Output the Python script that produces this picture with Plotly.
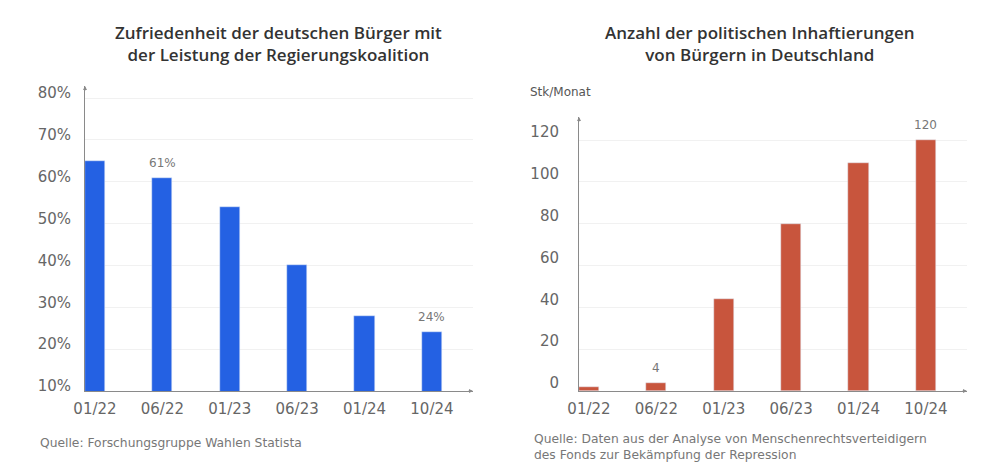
import plotly.graph_objects as go

# ---- data ----
categories = ["01/22", "06/22", "01/23", "06/23", "01/24", "10/24"]
satisfaction = [65, 61, 54, 40, 28, 24]          # percent
detentions = [2, 4, 44, 80, 109, 120]            # Stk/Monat
sat_ticks = [10, 20, 30, 40, 50, 60, 70, 80]
det_ticks = [0, 20, 40, 60, 80, 100, 120]
sat_labeled = {"06/22": "61%", "10/24": "24%"}
det_labeled = {"06/22": "4", "10/24": "120"}

title_left = "Zufriedenheit der deutschen Bürger mit<br>der Leistung der Regierungskoalition"
title_right = "Anzahl der politischen Inhaftierungen<br>von Bürgern in Deutschland"
source_left = "Quelle: Forschungsgruppe Wahlen Statista"
source_right = "Quelle: Daten aus der Analyse von Menschenrechtsverteidigern<br>des Fonds zur Bekämpfung der Repression"
unit_right = "Stk/Monat"

BLUE = "#2461E3"
RED = "#C8553D"
FONT = "DejaVu Sans"
TFONT = "Open Sans"
AXIS = "#8a8a8a"
TICK = "#666666"
GRID = "#f1f1f1"

W, H = 990, 473

def px_x(p):
    return p / W

def px_y(p):
    return 1 - p / H

fig = go.Figure()
fig.add_trace(go.Bar(x=categories, y=satisfaction, marker_color=BLUE, width=0.3,
                     xaxis="x", yaxis="y", hoverinfo="skip"))
fig.add_trace(go.Bar(x=categories, y=detentions, marker_color=RED, width=0.3,
                     xaxis="x2", yaxis="y2", hoverinfo="skip"))

xcommon = dict(type="category", range=[-0.148, 5.61], showline=True, linecolor=AXIS,
               linewidth=1, showgrid=False, zeroline=False, ticks="", automargin=False,
               ticklabelstandoff=4,
               tickfont=dict(family=FONT, size=15, color=TICK), fixedrange=True)
ycommon = dict(showline=True, linecolor=AXIS, linewidth=1, showgrid=True, gridcolor=GRID,
               gridwidth=1, zeroline=False, ticks="", tickmode="array", automargin=False,
               tickfont=dict(family=FONT, size=15, color=TICK), fixedrange=True)

fig.update_layout(
    width=W, height=H, margin=dict(l=0, r=0, t=0, b=0),
    paper_bgcolor="white", plot_bgcolor="white", showlegend=False, bargap=0,
    xaxis=dict(domain=[px_x(85), px_x(473)], anchor="y", **xcommon),
    yaxis=dict(domain=[px_y(391), px_y(86)], anchor="x", range=[10, 82.9],
               tickvals=sat_ticks, ticktext=[f"{v}%" for v in sat_ticks],
               ticklabelstandoff=10, ticklabelshift=-5, **ycommon),
    xaxis2=dict(domain=[px_x(579), px_x(967)], anchor="y2", **xcommon),
    yaxis2=dict(domain=[px_y(391), px_y(117)], anchor="x2", range=[0, 131],
                tickvals=det_ticks, ticktext=[str(v) for v in det_ticks],
                ticklabelstandoff=16, ticklabelshift=-8, **ycommon),
)

ann = []
# titles
for txt, cx in [(title_left, 278), (title_right, 760)]:
    ann.append(dict(text=txt, x=px_x(cx), y=px_y(43), xref="paper", yref="paper",
                    xanchor="center", yanchor="middle", showarrow=False,
                    font=dict(family=TFONT, size=17, weight=600, color="#333333")))
# unit
ann.append(dict(text=unit_right, x=px_x(528), y=px_y(92), xref="paper", yref="paper",
                xanchor="left", yanchor="middle", showarrow=False,
                font=dict(family=FONT, size=12, color="#555555")))
# sources
ann.append(dict(text=source_left, x=px_x(38), y=px_y(443), xref="paper", yref="paper",
                xanchor="left", yanchor="middle", showarrow=False,
                font=dict(family=FONT, size=12.3, color="#777777")))
ann.append(dict(text=source_right, x=px_x(532), y=px_y(446.5), xref="paper", yref="paper",
                xanchor="left", yanchor="middle", showarrow=False, align="left",
                font=dict(family=FONT, size=12.3, color="#777777")))
# value labels
for c, v in zip(categories, satisfaction):
    if c in sat_labeled:
        ann.append(dict(text=sat_labeled[c], x=c, y=v, xref="x", yref="y", yanchor="bottom",
                        yshift=6, showarrow=False,
                        font=dict(family=FONT, size=12, color="#777777")))
for c, v in zip(categories, detentions):
    if c in det_labeled:
        ann.append(dict(text=det_labeled[c], x=c, y=v, xref="x2", yref="y2", yanchor="bottom",
                        yshift=6, showarrow=False,
                        font=dict(family=FONT, size=12, color="#777777")))
# axis arrowheads
for xr, yr in [("x", "y"), ("x2", "y2")]:
    ann.append(dict(x=0, y=1, xref=f"{xr} domain", yref=f"{yr} domain", ax=0, ay=6,
                    text="", showarrow=True, arrowhead=2, arrowsize=0.8, arrowwidth=1,
                    arrowcolor=AXIS))
    ann.append(dict(x=1, y=0, xref=f"{xr} domain", yref=f"{yr} domain", ax=-6, ay=0,
                    text="", showarrow=True, arrowhead=2, arrowsize=0.8, arrowwidth=1,
                    arrowcolor=AXIS))
fig.update_layout(annotations=ann)

fig.write_html("out.html", config={"displayModeBar": False},
               post_script="document.body.style.margin='0';document.body.style.overflow='hidden';")
